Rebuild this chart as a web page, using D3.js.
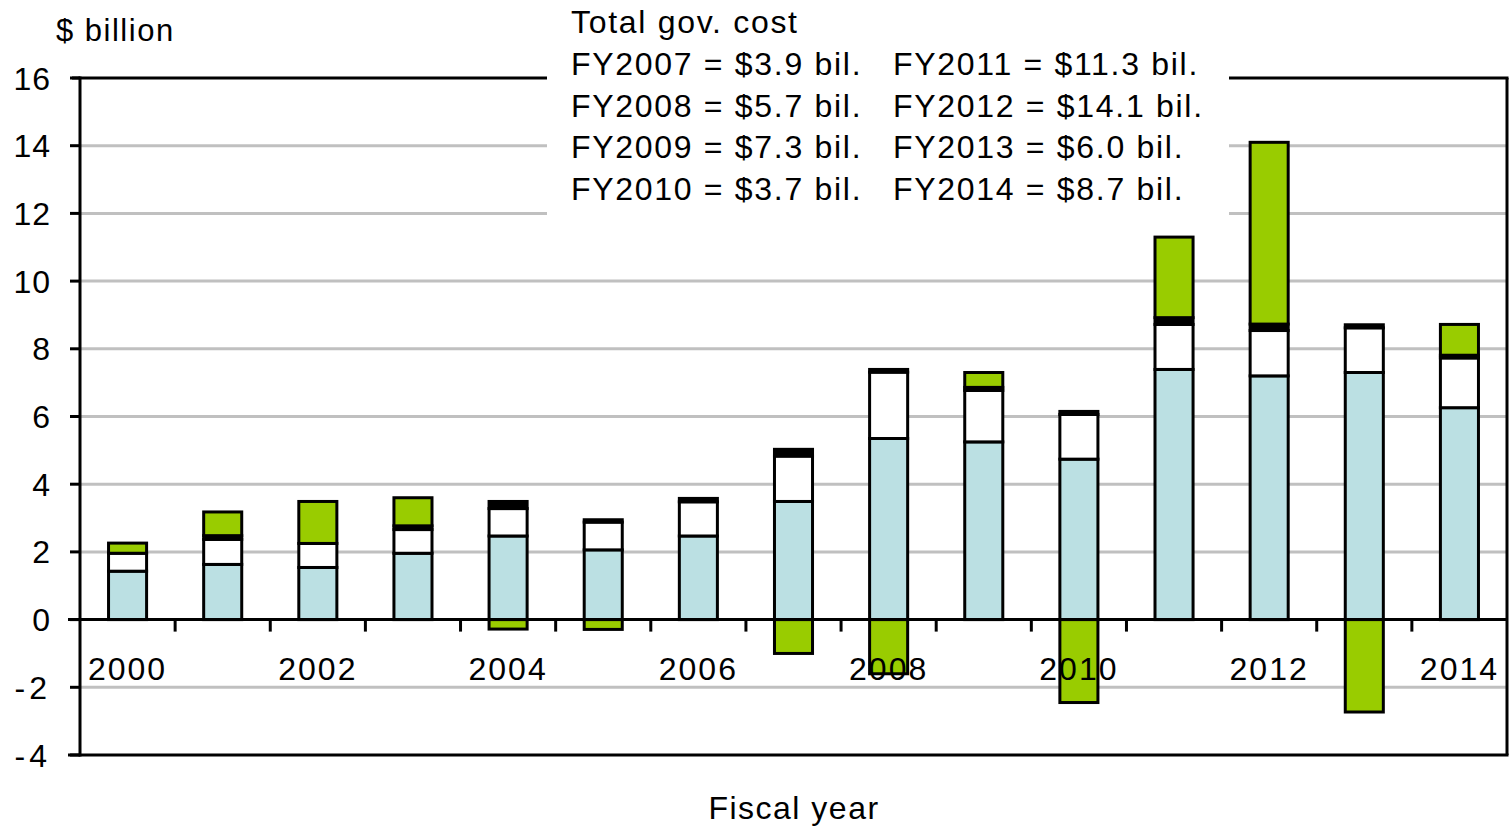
<!DOCTYPE html>
<html>
<head>
<meta charset="utf-8">
<script src="https://cdn.jsdelivr.net/npm/d3@7"></script>
<style>
  html, body { margin: 0; padding: 0; background: #fff; }
  svg { display: block; }
  text { font-family: "Liberation Sans", Arial, sans-serif; fill: #000; }
</style>
</head>
<body>
<svg id="chart" width="1512" height="828"></svg>
<script>
// ---- data ----
const years = [2000, 2001, 2002, 2003, 2004, 2005, 2006, 2007, 2008, 2009, 2010, 2011, 2012, 2013, 2014];
const seriesBlue  = [1.43, 1.63, 1.54, 1.96, 2.47, 2.06, 2.47, 3.49, 5.35, 5.25, 4.74, 7.39, 7.20, 7.30, 6.26];
const seriesWhite = [0.53, 0.74, 0.71, 0.70, 0.81, 0.82, 1.01, 1.34, 1.96, 1.52, 1.32, 1.33, 1.34, 1.32, 1.47];
const seriesBlack = [0.00, 0.11, 0.00, 0.11, 0.21, 0.07, 0.10, 0.20, 0.08, 0.09, 0.09, 0.20, 0.19, 0.09, 0.08];
const seriesGreen = [0.30, 0.70, 1.24, 0.83, -0.28, -0.29, 0.00, -1.00, -1.60, 0.44, -2.45, 2.38, 5.37, -2.73, 0.91];
const seriesKeys = ["blue", "white", "black", "green"];
const seriesColors = ["#bbe0e3", "#ffffff", "#000000", "#99cc00"];
const yTicks = [-4, -2, 0, 2, 4, 6, 8, 10, 12, 14, 16];
const xTickLabels = ["2000", "2002", "2004", "2006", "2008", "2010", "2012", "2014"];
const yAxisTitle = "$ billion";
const xAxisTitle = "Fiscal year";
const noteTitle = "Total gov. cost";
const noteCol1 = ["FY2007 = $3.9 bil.", "FY2008 = $5.7 bil.", "FY2009 = $7.3 bil.", "FY2010 = $3.7 bil."];
const noteCol2 = ["FY2011 = $11.3 bil.", "FY2012 = $14.1 bil.", "FY2013 = $6.0 bil.", "FY2014 = $8.7 bil."];

// ---- layout ----
const svg = d3.select("#chart");
const L = 80, R = 1507, T = 78, B = 755;

const table = years.map((y, i) => ({
  year: y, blue: seriesBlue[i], white: seriesWhite[i], black: seriesBlack[i], green: seriesGreen[i]
}));

const x = d3.scaleBand().domain(years).range([L, R]).paddingInner(0.6).paddingOuter(0.3).align(0.5);
const y = d3.scaleLinear().domain([-4, 16]).range([B, T]);

// gridlines
svg.append("g").selectAll("line")
  .data(yTicks.filter(v => v !== 0 && v !== -4 && v !== 16))
  .join("line")
  .attr("x1", L).attr("x2", R)
  .attr("y1", d => y(d)).attr("y2", d => y(d))
  .attr("stroke", "#c0c0c0").attr("stroke-width", 3);

// frame (top, right, bottom)
svg.append("line").attr("x1", L - 8).attr("x2", R + 1.5).attr("y1", y(16)).attr("y2", y(16))
  .attr("stroke", "#000").attr("stroke-width", 3);
svg.append("line").attr("x1", R).attr("x2", R).attr("y1", y(16)).attr("y2", y(-4))
  .attr("stroke", "#000").attr("stroke-width", 3);
svg.append("line").attr("x1", L - 12).attr("x2", R + 1.5).attr("y1", y(-4)).attr("y2", y(-4))
  .attr("stroke", "#000").attr("stroke-width", 3);

// note box (white background hides lines)
svg.append("rect").attr("x", 547).attr("y", 0).attr("width", 682).attr("height", 218).attr("fill", "#fff");
const note = svg.append("g").attr("font-size", 32).attr("letter-spacing", 1.7);
note.append("text").attr("x", 571).attr("y", 33).text(noteTitle);
noteCol1.forEach((t, i) => note.append("text").attr("x", 571).attr("y", 75 + i * 41.5).text(t));
noteCol2.forEach((t, i) => note.append("text").attr("x", 893).attr("y", 75 + i * 41.5).text(t));

// stacked bars
const stack = d3.stack().keys(seriesKeys).offset(d3.stackOffsetDiverging);
const stacked = stack(table);
const bars = svg.append("g");
stacked.forEach((s, si) => {
  bars.append("g").selectAll("rect")
    .data(s.filter(d => Math.abs(d[1] - d[0]) > 1e-9))
    .join("rect")
    .attr("x", d => x(d.data.year))
    .attr("width", x.bandwidth())
    .attr("y", d => y(Math.max(d[0], d[1])))
    .attr("height", d => Math.abs(y(d[0]) - y(d[1])))
    .attr("fill", seriesColors[si])
    .attr("stroke", "#000")
    .attr("stroke-width", 3);
});

// zero line + x ticks at category boundaries
svg.append("line").attr("x1", L - 12).attr("x2", R).attr("y1", y(0)).attr("y2", y(0))
  .attr("stroke", "#000").attr("stroke-width", 3);
const half = (x.step() - x.bandwidth()) / 2;
svg.append("g").selectAll("line")
  .data(years.slice(1))
  .join("line")
  .attr("x1", d => x(d) - half).attr("x2", d => x(d) - half)
  .attr("y1", y(0)).attr("y2", y(0) + 12)
  .attr("stroke", "#000").attr("stroke-width", 3);

// y axis
svg.append("line").attr("x1", L).attr("x2", L).attr("y1", y(16) - 1.5).attr("y2", y(-4) + 1.5)
  .attr("stroke", "#000").attr("stroke-width", 3);
svg.append("g").selectAll("line")
  .data(yTicks)
  .join("line")
  .attr("x1", L - 10).attr("x2", L)
  .attr("y1", d => y(d)).attr("y2", d => y(d))
  .attr("stroke", "#000").attr("stroke-width", 3);
svg.append("g").selectAll("text")
  .data(yTicks)
  .join("text")
  .attr("x", 51).attr("y", d => y(d) + 11.5)
  .attr("text-anchor", "end")
  .attr("font-size", 32)
  .attr("letter-spacing", d => d < 0 ? 4 : 1)
  .text(d => String(d));

// x tick labels (drawn over bars)
svg.append("g").selectAll("text")
  .data(xTickLabels)
  .join("text")
  .attr("x", d => x(+d) + x.bandwidth() / 2)
  .attr("y", 679.5)
  .attr("text-anchor", "middle")
  .attr("font-size", 32)
  .attr("letter-spacing", 2)
  .text(d => d);

// axis titles
svg.append("text").attr("x", 56).attr("y", 41).attr("font-size", 31).attr("letter-spacing", 1.5).text(yAxisTitle);
svg.append("text").attr("x", 794).attr("y", 819).attr("text-anchor", "middle")
  .attr("font-size", 32).attr("letter-spacing", 1.5).text(xAxisTitle);
</script>
</body>
</html>
